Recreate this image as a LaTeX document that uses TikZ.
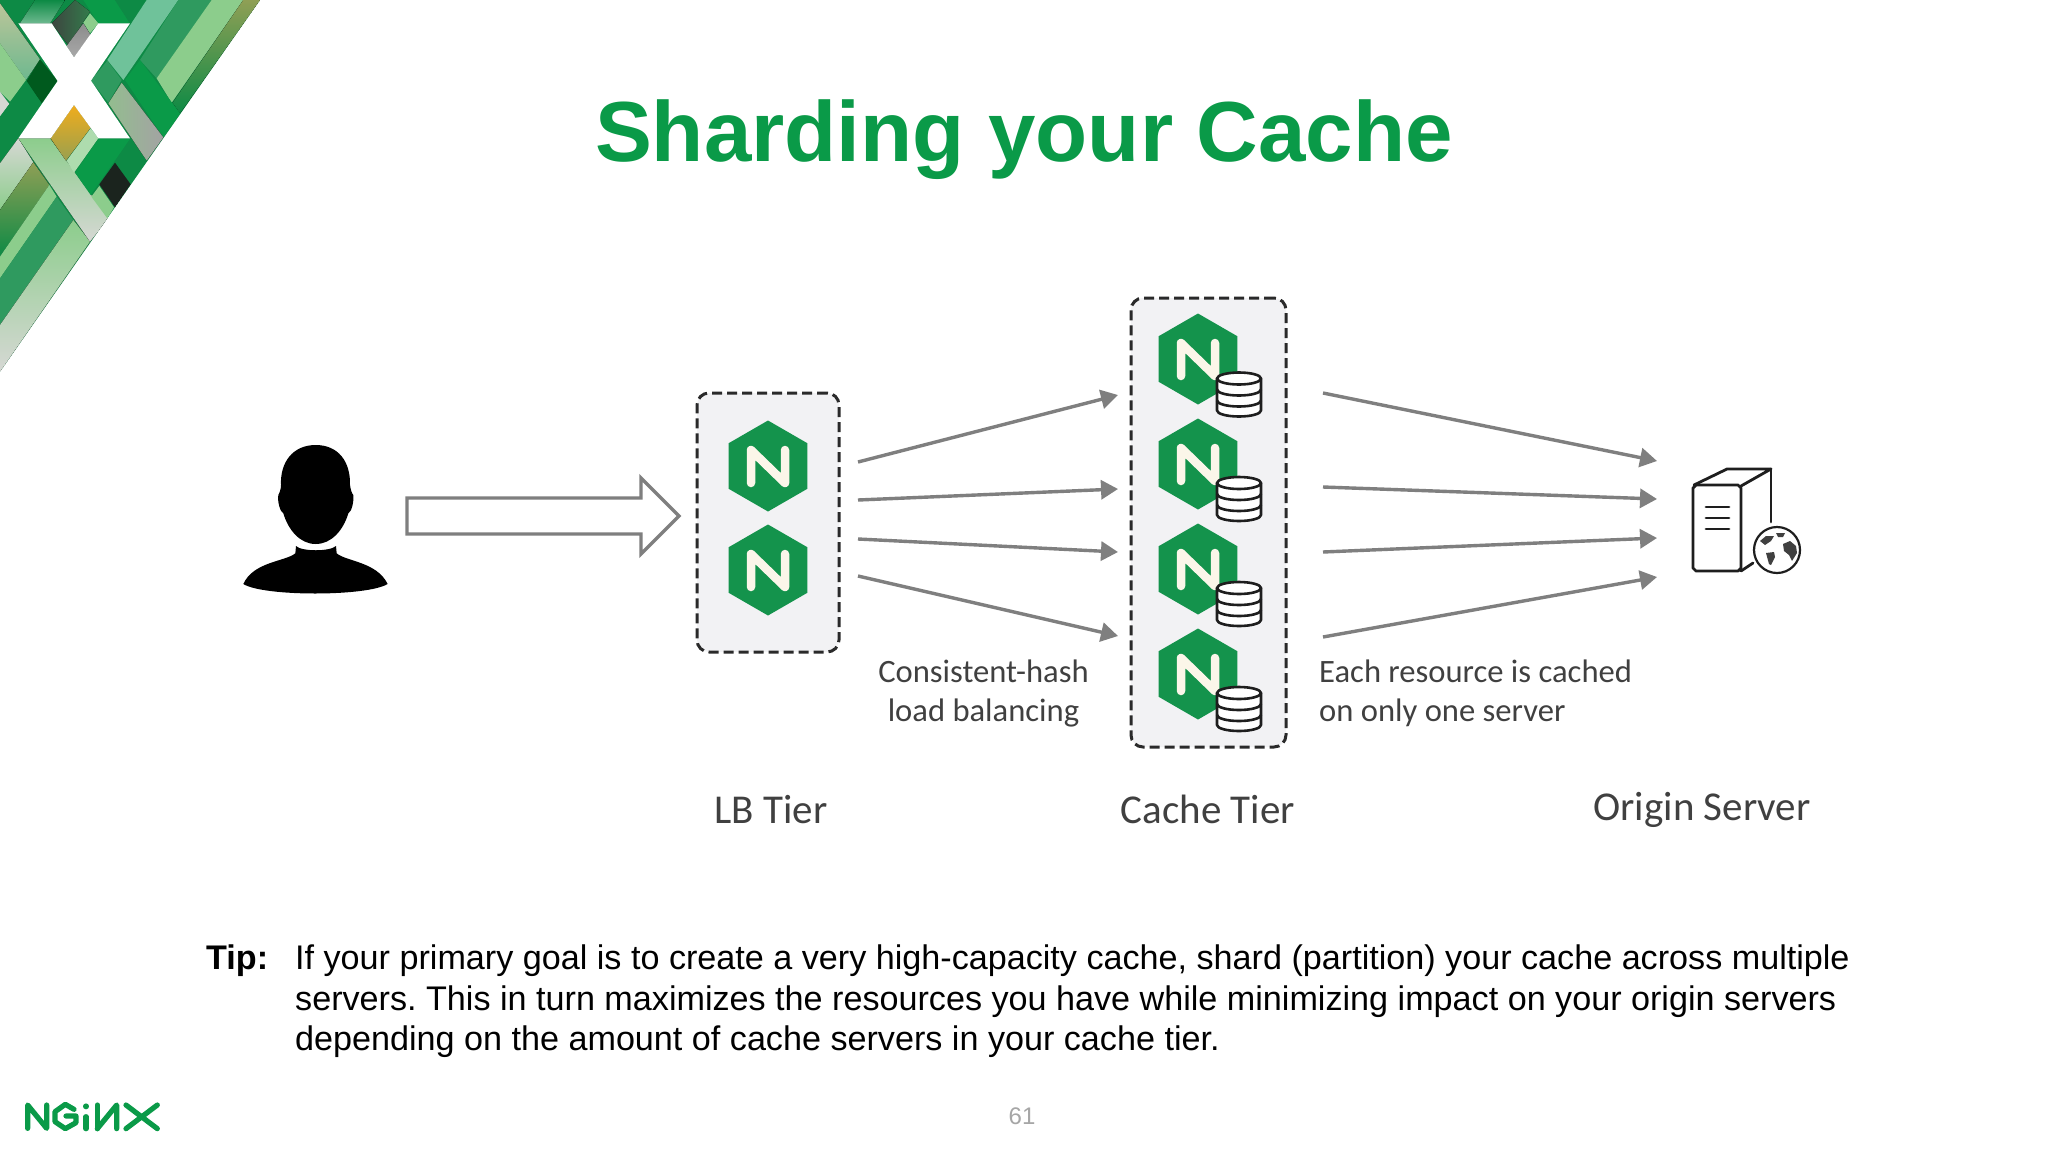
\documentclass[tikz,border=0pt]{standalone}
\usepackage{fontspec}
\setmainfont{Liberation Sans}
\newfontfamily\labelfont{Carlito}
\usetikzlibrary{arrows.meta,shapes.geometric,positioning}
\frenchspacing
\definecolor{ngreen}{HTML}{0A9A48}
\definecolor{hexgreen}{HTML}{14934C}
\definecolor{ncream}{HTML}{FBF6E9}
\definecolor{boxfill}{HTML}{F2F2F4}
\definecolor{boxline}{HTML}{2A2A2A}
\definecolor{arrowgrey}{HTML}{7F7F7F}
\definecolor{labelgrey}{HTML}{404040}
\definecolor{iconblack}{HTML}{1E1E1E}
\definecolor{HTMLblack}{HTML}{1B241E}
\definecolor{HTMLdarkgreen}{HTML}{005A1E}
\definecolor{HTMLleaf}{HTML}{8CCD8C}
\definecolor{HTMLmidgrey}{HTML}{8C8C8C}
\definecolor{HTMLgrey}{HTML}{A8A8A8}
\definecolor{HTMLdeep}{HTML}{0D8A45}
\definecolor{HTMLteal}{HTML}{6FC29A}
\definecolor{HTMLband}{HTML}{2F9A5F}
\definecolor{HTMLolive}{HTML}{8F9F55}
\definecolor{HTMLsage}{HTML}{93BD8F}
\definecolor{HTMLpale}{HTML}{D6D8D4}
\definecolor{HTMLorange}{HTML}{F0AC1C}
\tikzset{
  hexn/.style={regular polygon,regular polygon sides=6,shape border rotate=30,fill=hexgreen,draw=none,inner sep=0pt,minimum size=91pt},
  dashbox/.style={draw=boxline,fill=boxfill,line width=3pt,dash pattern=on 10pt off 5pt,rounded corners=12pt,inner sep=0pt},
  flow/.style={draw=arrowgrey,line width=3.4pt,-{Triangle[length=17pt,width=19pt]}},
  difflabel/.style={font=\labelfont\fontsize{32.6}{39}\selectfont,text=labelgrey,inner sep=0pt},
  tierlabel/.style={font=\labelfont\fontsize{41}{44}\selectfont,text=labelgrey,inner sep=0pt,anchor=base},
  nstroke/.style={draw=ncream,line width=8.5pt,line cap=round,line join=round},
  iconline/.style={draw=iconblack,line width=2.6pt,line join=round,line cap=round},
  logoline/.style={draw=ngreen,line width=5.2pt,line join=round,line cap=round}
}
\newcommand{\nhex}[3]{%
  \node[hexn] (#1) at (#2,#3) {};
  \draw[nstroke] (#2-17,#3+17) -- (#2-17,#3-16) -- (#2+17,#3+17) -- (#2+17,#3-16);
}
\newcommand{\diskicon}[2]{%
  \begin{scope}[shift={(#1,#2)}]
    \fill[white] (-22,-16) -- (-22,16) arc[start angle=180,end angle=360,x radius=22pt,y radius=6pt] -- (22,-16) arc[start angle=0,end angle=180,x radius=22pt,y radius=6pt] -- cycle;
    \draw[iconline] (0,-16) ellipse[x radius=22pt,y radius=6pt];
    \draw[iconline] (-22,-16) -- (-22,16) arc[start angle=180,end angle=360,x radius=22pt,y radius=6pt] -- (22,-16);
    \draw[iconline] (-22,-5) arc[start angle=180,end angle=360,x radius=22pt,y radius=6pt];
    \draw[iconline] (-22,6) arc[start angle=180,end angle=360,x radius=22pt,y radius=6pt];
  \end{scope}
}
\begin{document}
\begin{tikzpicture}[x=1pt,y=-1pt]
\useasboundingbox (0,0) rectangle (2048,1152);
\fill[white] (0,0) rectangle (2048,1152);

% corner pattern
\begin{scope}[scale=1/3]
\clip (0,0) -- (780,0) -- (0,1115) -- cycle;
\fill[HTMLdeep] (0,0) rectangle (780,1115);
\fill[HTMLdeep] (30,0) -- (105,0) -- (60,70) -- (0,30) -- cycle;
\fill[top color=HTMLdeep,bottom color=HTMLband!70!white] (105,0) -- (195,0) -- (150,70) -- (60,70) -- cycle;
\fill[left color=HTMLblack!85,right color=HTMLdarkgreen!80] (225,0) -- (270,35) -- (205,135) -- (155,70) -- cycle;
\fill[ngreen] (250,0) -- (345,0) -- (390,70) -- (295,70) -- cycle;
\fill[HTMLleaf] (270,40) -- (295,70) -- (270,100) -- (250,68) -- cycle;
\fill[top color=HTMLmidgrey,bottom color=HTMLgrey] (250,70) -- (272,105) -- (222,172) -- (200,138) -- cycle;
\fill[HTMLdeep] (345,0) -- (440,0) -- (390,70) -- cycle;
\fill[HTMLteal] (440,0) -- (535,0) -- (370,240) -- (322,180) -- cycle;
\fill[HTMLband] (535,0) -- (635,0) -- (470,235) -- (420,180) -- cycle;
\fill[HTMLleaf] (635,0) -- (730,0) -- (515,308) -- (470,235) -- cycle;
\fill[top color=HTMLolive,bottom color=HTMLdeep] (730,0) -- (780,0) -- (540,340) -- (518,308) -- cycle;
\fill[ngreen] (375,240) -- (420,180) -- (540,340) -- (490,412) -- cycle;
\fill[left color=HTMLsage,right color=HTMLmidgrey!80] (365,248) -- (490,412) -- (440,482) -- (325,310) -- cycle;
\fill[HTMLband] (322,182) -- (365,240) -- (325,308) -- (273,242) -- cycle;
\fill[top color=HTMLolive!60,bottom color=HTMLband!70] (0,10) -- (120,178) -- (78,240) -- (0,130) -- cycle;
\fill[HTMLleaf] (0,130) -- (78,240) -- (30,305) -- (0,275) -- cycle;
\fill[HTMLdarkgreen] (120,178) -- (173,243) -- (125,310) -- (80,243) -- cycle;
\fill[HTMLpale] (0,275) -- (28,312) -- (0,350) -- cycle;
\fill[HTMLdeep] (78,245) -- (125,310) -- (60,415) -- (0,490) -- (0,350) -- cycle;
\fill[top color=HTMLpale,bottom color=HTMLleaf] (55,415) -- (100,487) -- (0,630) -- (0,490) -- cycle;
\fill[top color=HTMLolive,bottom color=HTMLdeep] (100,487) -- (148,555) -- (0,770) -- (0,630) -- cycle;
\fill[HTMLleaf] (148,555) -- (170,590) -- (0,835) -- (0,770) -- cycle;
\fill[HTMLband] (170,590) -- (220,660) -- (0,975) -- (0,835) -- cycle;
\fill[top color=HTMLleaf,bottom color=HTMLpale] (220,660) -- (270,725) -- (0,1115) -- (0,975) -- cycle;
\fill[top color=HTMLleaf,bottom color=HTMLpale] (55,415) -- (150,415) -- (325,655) -- (270,725) -- cycle;
\fill[top color=HTMLorange,bottom color=HTMLolive!90!HTMLorange] (222,315) -- (272,383) -- (198,482) -- (152,415) -- cycle;
\fill[HTMLleaf!70] (272,385) -- (295,415) -- (222,518) -- (200,482) -- cycle;
\fill[ngreen] (295,417) -- (390,417) -- (272,585) -- (225,518) -- cycle;
\fill[HTMLdeep] (390,417) -- (440,482) -- (392,550) -- (345,488) -- cycle;
\fill[HTMLblack] (345,488) -- (392,553) -- (345,622) -- (298,553) -- cycle;
\fill[HTMLleaf] (298,558) -- (342,622) -- (322,655) -- (274,590) -- cycle;
\fill[white] (55,70) -- (155,70) -- (222,172) -- (295,70) -- (390,70) -- (273,242) -- (390,415) -- (295,415) -- (222,315) -- (152,415) -- (55,415) -- (173,243) -- cycle;
\end{scope}

% title
\node[font=\bfseries\fontsize{85.3}{90}\selectfont,text=ngreen,inner sep=0pt,anchor=base] (titletext) at (1024,161) {Sharding your Cache};

% person
\begin{scope}[shift={(220,430)},scale=1/3]
\fill[black] (287,45) .. controls (355,45) and (392,95) .. (390,165)
  .. controls (392,178) and (395,190) .. (400,195)
  .. controls (402,215) and (395,245) .. (385,250)
  .. controls (370,300) and (335,342) .. (287,342)
  .. controls (240,342) and (205,300) .. (190,250)
  .. controls (180,245) and (172,215) .. (175,195)
  .. controls (178,190) and (183,178) .. (183,165)
  .. controls (180,95) and (220,45) .. (287,45) -- cycle;
\fill[black] (228,348) .. controls (245,365) and (330,365) .. (348,348)
  -- (350,370) .. controls (380,395) and (470,395) .. (503,462)
  .. controls (440,500) and (130,500) .. (70,462)
  .. controls (100,395) and (195,395) .. (226,370) -- cycle;
\end{scope}

% big arrow
\coordinate (bigstart) at (407,516);
\draw[draw=arrowgrey,line width=3.4pt,fill=white,line join=miter]
  (bigstart |- 0,498) -- (641,498) -- (641,478) -- (679,516) -- (641,554) -- (641,534) -- (bigstart |- 0,534) -- cycle;

% boxes
\node[dashbox,minimum width=142pt,minimum height=259pt] (lbbox) at (768,522.5) {};
\node[dashbox,minimum width=155pt,minimum height=449pt] (cachebox) at (1208.5,522.5) {};

\nhex{lbone}{768}{466}
\nhex{lbtwo}{768}{570}
\nhex{cone}{1198}{359}
\nhex{ctwo}{1198}{464}
\nhex{cthree}{1198}{569}
\nhex{cfour}{1198}{674}
\diskicon{1239}{394.5}
\diskicon{1239}{499}
\diskicon{1239}{604}
\diskicon{1239}{709}

% left arrows
\foreach \n/\ya/\yb in {a/462/395,b/500/489,c/539/552,d/576/636}{
  \coordinate (ls\n) at (858,\ya);
  \coordinate (le\n) at (1118,\yb);
  \draw[flow] (ls\n) -- (le\n);
}
% right arrows
\foreach \n/\ya/\yb in {a/393/461,b/487/499,c/552/538,d/637/577}{
  \coordinate (rs\n) at (1323,\ya);
  \coordinate (re\n) at (1657,\yb);
  \draw[flow] (rs\n) -- (re\n);
}

% server icon
\draw[iconline,line width=2.8pt] (1696,485) -- (1738,485) -- (1741,488) -- (1741,568) -- (1738,571) -- (1696,571) -- (1693,568) -- (1693,488) -- cycle;
\draw[iconline,line width=2.8pt] (1694,485) -- (1727,469) -- (1771,469) -- (1741,486);
\draw[iconline,line width=2.8pt] (1771,469) -- (1771,522);
\draw[iconline,line width=2.8pt] (1741,571) -- (1753,563);
\foreach \yy in {507,518,529}{\draw[iconline,line width=2.8pt] (1706,\yy) -- (1729,\yy);}
\node[circle,draw=iconblack,line width=2.2pt,fill=white,minimum size=46pt,inner sep=0pt] (globe) at (1777,550) {};
\fill[iconblack!85] (1760,541) -- (1766,536) -- (1774,536) -- (1771,541) -- (1765,545) -- cycle;
\fill[iconblack!85] (1766,553) -- (1774,552) -- (1775,557) -- (1771,565) -- (1769,564) -- cycle;
\fill[iconblack!85] (1776,533) -- (1785,533) -- (1783,537) -- (1778,537) -- cycle;
\fill[iconblack!85] (1783,544) -- (1790,541) -- (1796,546) -- (1797,553) -- (1792,561) -- (1789,555) -- (1784,551) -- cycle;

% labels
\node[difflabel] (chash) at (983.5,671) {Consistent-hash};
\node[difflabel] (lbal) at (983.5,713) {load balancing};
\node[difflabel,anchor=west] (eachres) at (1319,671) {Each resource is cached};
\node[difflabel,anchor=west] (oneserver) at (1319,713) {on only one server};
\node[tierlabel] (lbtier) at (771,823) {LB Tier};
\node[tierlabel] (cachetier) at (1208,823) {Cache Tier};
\node[tierlabel] (origin) at (1702,820) {Origin Server};

% tip
\node[font=\bfseries\fontsize{34.15}{40}\selectfont,text=black,inner sep=0pt,anchor=base west] (tip) at (206,969) {Tip:};
\node[font=\fontsize{34.15}{40}\selectfont,text=black,inner sep=0pt,anchor=base west] (tipa) at (295,969) {If your primary goal is to create a very high-capacity cache, shard (partition) your cache across multiple};
\node[font=\fontsize{34.15}{40}\selectfont,text=black,inner sep=0pt,anchor=base west] (tipb) at (295,1010) {servers. This in turn maximizes the resources you have while minimizing impact on your origin servers};
\node[font=\fontsize{34.15}{40}\selectfont,text=black,inner sep=0pt,anchor=base west] (tipc) at (295,1050) {depending on the amount of cache servers in your cache tier.};

% page number
\node[font=\fontsize{24}{28}\selectfont,text=black!35,inner sep=0pt] (pagenum) at (1022,1116) {61};

% logo
\begin{scope}[shift={(0,1080)},scale=1/3]
\draw[logoline] (83,145) -- (83,75) -- (140,145) -- (140,75);
\draw[logoline] (222,88) -- (196,73) -- (165,95) -- (165,125) -- (196,146) -- (228,128) -- (228,108) -- (198,108);
\draw[logoline] (258,110) -- (258,146);
\draw[logoline] (258,78) -- (258,80);
\draw[logoline] (292,146) -- (292,75);
\draw[logoline] (292,146) -- (350,75) -- (350,146);
\draw[logoline] (378,75) -- (472,146);
\draw[logoline] (472,75) -- (378,146);
\end{scope}
\end{tikzpicture}
\end{document}
